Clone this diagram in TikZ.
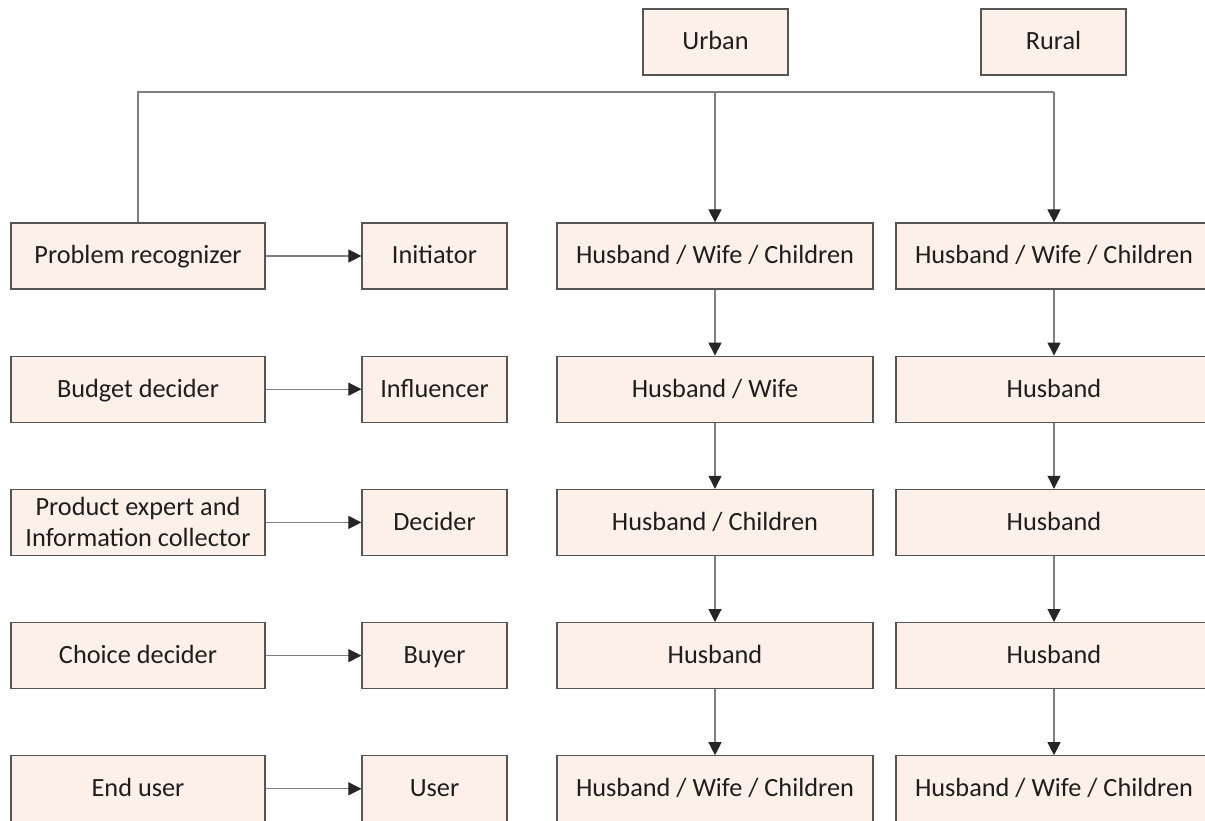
\documentclass[tikz,border=0pt]{standalone}
\usepackage{fontspec}
\setmainfont{Carlito}
\usetikzlibrary{arrows.meta}
\definecolor{peach}{HTML}{FDF0E8}
\definecolor{boxline}{HTML}{555555}
\definecolor{conn}{HTML}{7F7F7F}
\definecolor{txt}{HTML}{1E1E1E}
\tikzset{
  box/.style={draw=boxline, fill=peach, line width=1.2pt, minimum height=66pt,
    inner sep=0pt, align=center, text=txt, text height=22pt, text depth=6pt,
    font=\fontsize{26.3}{31}\selectfont},
  wl/.style={box, minimum width=254pt},
  wm/.style={box, minimum width=145pt},
  wc/.style={box, minimum width=316pt},
  conn/.style={draw=conn, line width=1.1pt},
  arr/.style={conn, -{Triangle[length=13pt,width=13pt,color=black!85]}}
}
\begin{document}
\begin{tikzpicture}[x=1pt,y=-1pt]
\clip (0,0) rectangle (1205,821);
\fill[white] (0,0) rectangle (1205,821);
% top
\node[wm] (urban) at (715.5,42) {Urban};
\node[wm] (rural) at (1053.5,42) {Rural};
% rows
\node[wl] (l1) at (138,256) {Problem recognizer};
\node[wm] (m1) at (434.5,256) {Initiator};
\node[wc] (u1) at (715,256) {Husband / Wife / Children};
\node[wc] (r1) at (1054,256) {Husband / Wife / Children};

\node[wl] (l2) at (138,389.2) {Budget decider};
\node[wm] (m2) at (434.5,389.2) {Influencer};
\node[wc] (u2) at (715,389.2) {Husband / Wife};
\node[wc] (r2) at (1054,389.2) {Husband};

\node[wl, text height={}, text depth={}] (l3) at (138,522.4) {Product expert and\\Information collector};
\node[wm] (m3) at (434.5,522.4) {Decider};
\node[wc] (u3) at (715,522.4) {Husband / Children};
\node[wc] (r3) at (1054,522.4) {Husband};

\node[wl] (l4) at (138,655.6) {Choice decider};
\node[wm] (m4) at (434.5,655.6) {Buyer};
\node[wc] (u4) at (715,655.6) {Husband};
\node[wc] (r4) at (1054,655.6) {Husband};

\node[wl] (l5) at (138,788.8) {End user};
\node[wm] (m5) at (434.5,788.8) {User};
\node[wc] (u5) at (715,788.8) {Husband / Wife / Children};
\node[wc] (r5) at (1054,788.8) {Husband / Wife / Children};

% top connector
\coordinate (hl) at (0,92);
\draw[conn] (l1.north) -- (l1.north |- hl) -- (r1.north |- hl);
\draw[arr] (u1.north |- hl) -- (u1.north);
\draw[arr] (r1.north |- hl) -- (r1.north);

% horizontal arrows
\foreach \i in {1,...,5} {
  \draw[arr] (l\i.east) -- (m\i.west);
}
% vertical arrows
\foreach \i/\j in {1/2,2/3,3/4,4/5} {
  \draw[arr] (u\i.south) -- (u\j.north);
  \draw[arr] (r\i.south) -- (r\j.north);
}
\end{tikzpicture}
\end{document}
